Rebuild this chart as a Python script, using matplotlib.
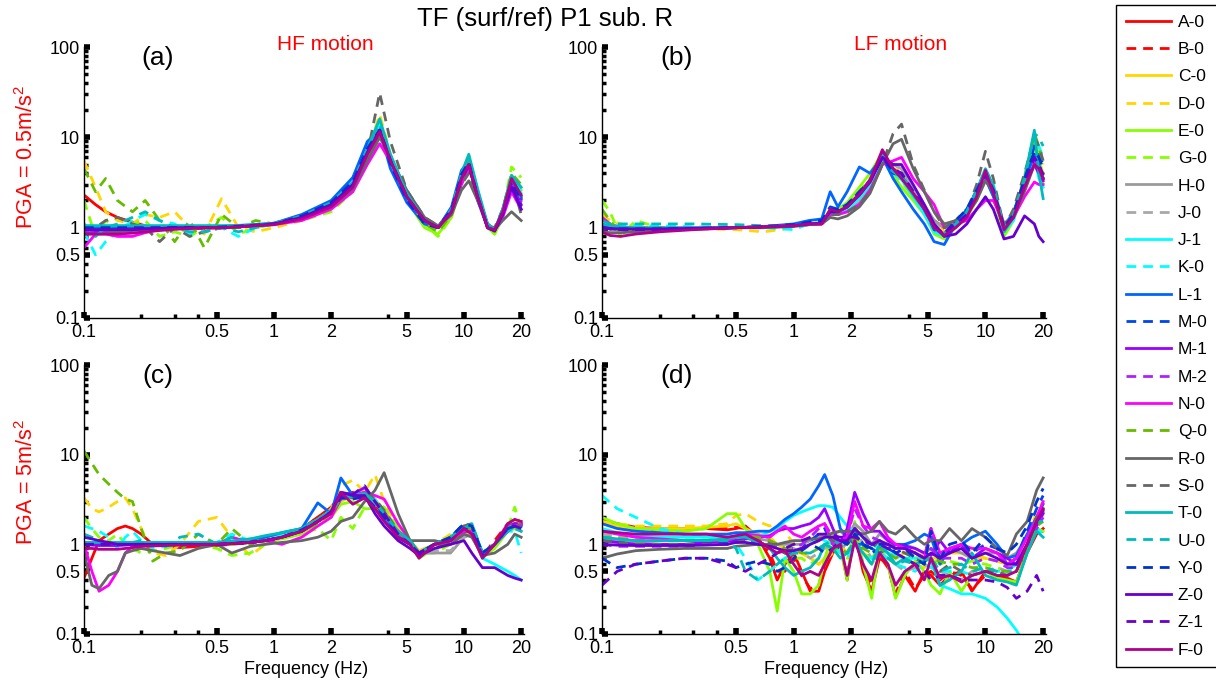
import matplotlib
matplotlib.use("Agg")
import matplotlib.pyplot as plt
from matplotlib.ticker import FixedLocator, NullFormatter

plt.rcParams['font.family'] = ['Liberation Sans', 'DejaVu Sans']
plt.rcParams['mathtext.fontset'] = 'custom'
plt.rcParams['mathtext.rm'] = 'Liberation Sans'
plt.rcParams['mathtext.it'] = 'Liberation Sans'

# ---------------- data ----------------
stations = ["A-0", "B-0", "C-0", "D-0", "E-0", "G-0", "H-0", "J-0", "J-1", "K-0", "L-1", "M-0",
            "M-1", "M-2", "N-0", "Q-0", "R-0", "S-0", "T-0", "U-0", "Y-0", "Z-0", "Z-1", "F-0"]
colors = ["#ff0000", "#ff0000", "#ffd700", "#ffd700", "#88ff00", "#88ff00", "#9a9a9a", "#a8a8a8",
          "#00ffff", "#00ffff", "#0066ff", "#0044ee", "#9900ff", "#aa22ff", "#ff00ff", "#66bb00",
          "#666666", "#666666", "#00bbbb", "#00bbbb", "#0033cc", "#6600cc", "#6600cc", "#b0008c"]
dashed = [False, True, False, True, False, True, False, True, False, True, False, True,
          False, True, False, True, False, True, False, True, True, False, True, False]

freq_a = [0.1, 0.115, 0.13, 0.15, 0.18, 0.21, 0.25, 0.3, 0.36, 0.43, 0.53, 0.65, 0.8, 1.0, 1.4, 2.0,
          2.6, 3.1, 3.6, 4.1, 5.0, 6.2, 7.3, 8.6, 9.7, 10.6, 11.8, 13.3, 14.5, 16.0, 17.8, 20.0]
tf_a = {
    "A-0": [2.3,1.8,1.5,1.3,1.15,1.05,1.0,0.98,0.97,0.98,1.0,1.02,1.06,1.1,1.3,1.8,3.0,6.5,11,5.5,2.1,1.15,1.0,1.5,3.6,5.0,2.2,1.05,0.93,1.4,3.4,2.1],
    "B-0": [1.0,0.95,0.95,0.95,0.97,0.98,0.99,1.0,1.0,1.0,1.0,1.03,1.07,1.1,1.3,1.8,3.0,6.8,12,5.8,2.2,1.2,1.0,1.5,3.5,5.2,2.3,1.05,0.95,1.4,3.2,2.0],
    "C-0": [1.0,1.0,1.0,1.0,1.0,1.0,1.0,1.0,1.0,1.0,1.02,1.04,1.07,1.1,1.3,1.8,3.0,7,14,6,2.3,1.2,1.0,1.5,3.6,5.3,2.4,1.05,0.95,1.5,3.5,2.2],
    "D-0": [5.5,2.8,1.5,1.2,1.1,1.4,1.3,1.5,1.0,0.85,2.1,1.0,0.9,1.0,1.2,1.7,2.8,6.5,18,6.5,2.4,1.2,1.0,1.5,3.8,5.5,2.4,1.05,0.95,1.5,3.8,2.8],
    "E-0": [0.9,0.95,1.0,1.0,1.0,0.98,0.98,1.0,1.0,1.0,1.0,1.02,1.05,1.08,1.25,1.7,2.7,6.0,13,5.5,2.0,1.0,0.85,1.3,3.4,5.0,2.2,1.0,0.85,1.3,3.6,2.6],
    "G-0": [2.0,0.8,1.2,1.0,1.1,1.2,0.8,0.9,0.8,1.0,1.3,0.85,1.0,1.1,1.2,1.5,2.5,5.5,9,5.0,2.2,1.1,0.8,1.3,3.0,5.5,2.4,1.0,0.85,1.5,4.7,3.6],
    "H-0": [0.95,0.95,0.95,0.97,0.98,1.0,1.0,1.0,1.0,1.0,1.0,1.03,1.06,1.1,1.3,1.8,2.9,6.3,12,5.8,2.4,1.2,1.0,1.5,3.4,5.0,2.3,1.05,0.95,1.4,3.0,2.0],
    "J-0": [1.0,1.0,1.0,1.0,1.0,1.0,1.0,1.0,1.0,1.0,1.0,1.03,1.06,1.1,1.3,1.8,2.9,6.3,12,6,2.4,1.2,1.0,1.5,3.3,4.8,2.3,1.05,0.95,1.4,3.0,1.8],
    "J-1": [1.05,1.05,1.05,1.05,1.05,1.05,1.05,1.05,1.05,1.05,1.05,1.06,1.08,1.12,1.35,1.9,3.2,7,14,6,2.3,1.2,1.0,1.6,3.8,5.8,2.5,1.05,0.95,1.5,3.5,2.4],
    "K-0": [0.9,0.5,0.7,0.9,1.2,1.4,1.2,1.1,0.85,0.9,1.0,0.8,1.0,1.1,1.3,1.8,3.1,7,15,6,2.3,1.2,1.0,1.6,3.9,6.2,2.6,1.05,0.95,1.5,3.6,2.5],
    "L-1": [1.0,1.0,1.0,1.0,1.0,1.0,1.0,1.0,1.0,1.0,1.02,1.05,1.08,1.12,1.4,2.0,3.6,9.0,12,4.5,1.9,1.1,1.0,1.7,4.3,5.5,2.0,1.0,0.92,1.6,3.6,2.2],
    "M-0": [1.0,1.0,1.0,1.0,1.0,1.0,1.0,1.0,1.0,1.0,1.02,1.04,1.07,1.1,1.35,1.9,3.3,8,12,5,2.0,1.1,1.0,1.6,4.0,5.4,2.2,1.0,0.93,1.5,3.4,2.0],
    "M-1": [0.9,0.9,0.92,0.95,0.97,0.98,1.0,1.0,1.0,1.0,1.0,1.03,1.06,1.1,1.3,1.8,3.0,6.5,11,5.5,2.2,1.2,1.0,1.5,3.6,5.2,2.3,1.05,0.95,1.4,3.0,1.8],
    "M-2": [0.92,0.92,0.93,0.95,0.97,0.98,1.0,1.0,1.0,1.0,1.0,1.03,1.06,1.1,1.3,1.8,3.0,6.6,11.5,5.6,2.2,1.2,1.0,1.5,3.5,5.0,2.3,1.05,0.95,1.4,3.1,1.9],
    "N-0": [0.6,0.85,0.85,0.8,0.8,0.88,0.95,0.97,0.98,1.0,1.0,1.02,1.05,1.08,1.2,1.6,2.5,5.0,8.5,5.5,2.3,1.2,1.0,1.4,3.0,4.5,2.4,1.1,0.95,1.3,2.5,1.6],
    "Q-0": [4.5,2.5,3.5,2.0,1.5,2.0,1.2,0.7,1.2,0.6,1.4,1.0,1.2,1.1,1.3,1.7,2.8,6.5,12,5.5,2.2,1.1,0.9,1.4,3.5,5.5,2.3,1.0,0.9,1.5,4.0,3.0],
    "R-0": [0.85,0.85,0.87,0.9,0.93,0.95,0.97,1.0,1.0,1.0,1.0,1.03,1.06,1.1,1.3,1.7,2.7,5.5,10,6,2.6,1.3,1.05,1.4,2.6,3.3,2.0,1.1,0.95,1.2,1.5,1.2],
    "S-0": [1.0,1.0,1.2,1.3,1.1,1.0,0.7,1.0,0.8,0.9,1.0,1.0,1.05,1.1,1.3,1.7,2.7,6.5,31,9,2.6,1.3,1.05,1.5,3.0,4.0,2.2,1.05,1.0,1.6,3.5,1.4],
    "T-0": [1.05,1.05,1.05,1.05,1.05,1.05,1.05,1.05,1.05,1.05,1.05,1.06,1.08,1.12,1.35,1.9,3.2,7.5,16,6.5,2.4,1.2,1.0,1.6,4,6.5,2.7,1.1,0.95,1.6,3.8,2.8],
    "U-0": [1.1,0.8,1.0,1.1,1.3,1.5,1.2,1.0,0.9,0.9,1.0,0.9,1.0,1.1,1.3,1.8,3.0,7,14,6,2.3,1.2,1.0,1.6,3.8,6.0,2.5,1.05,0.95,1.5,3.5,2.3],
    "Y-0": [1.0,1.0,1.0,1.0,1.0,1.0,1.0,1.0,1.0,1.0,1.02,1.04,1.07,1.1,1.35,1.9,3.2,7.5,12,5.2,2.1,1.1,1.0,1.6,3.9,5.3,2.2,1.0,0.93,1.5,3.3,2.0],
    "Z-0": [0.95,0.95,0.95,0.95,0.95,0.97,0.98,1.0,1.0,1.0,1.0,1.03,1.06,1.1,1.3,1.8,3.0,6.8,12,5.5,2.2,1.2,1.0,1.5,3.5,5.0,2.2,1.0,0.92,1.4,2.8,1.6],
    "Z-1": [0.95,0.95,0.95,0.96,0.97,0.98,0.99,1.0,1.0,1.0,1.0,1.03,1.06,1.1,1.3,1.8,3.0,6.7,12,5.6,2.2,1.2,1.0,1.5,3.4,4.9,2.2,1.0,0.93,1.4,2.9,1.7],
    "F-0": [0.85,0.85,0.85,0.85,0.87,0.9,0.93,0.96,0.98,1.0,1.0,1.02,1.05,1.08,1.25,1.7,2.8,6.5,11.5,5.5,2.2,1.2,1.0,1.5,3.5,5.0,2.2,1.0,0.95,1.5,3.5,2.3],
}

freq_b = [0.1, 0.11, 0.125, 0.15, 0.2, 0.3, 0.5, 0.7, 1.0, 1.2, 1.4, 1.55, 1.7, 1.9, 2.2, 2.5, 2.9,
          3.3, 3.65, 4.2, 4.8, 5.4, 6.1, 7.0, 8.0, 9.0, 10.0, 11.0, 12.5, 14.0, 16.0, 18.0, 19.0, 20.0]
tf_b = {
    "A-0": [1.1,1.0,0.97,0.95,0.96,0.98,1.0,1.02,1.05,1.08,1.1,1.4,1.4,1.6,2.2,3.2,6.5,4.0,3.5,2.2,1.6,1.2,1.0,1.1,1.5,2.3,3.8,2.5,1.0,1.3,2.8,6.0,4.5,3.5],
    "B-0": [1.05,1.0,0.97,0.95,0.96,0.98,1.0,1.02,1.05,1.1,1.12,1.45,1.4,1.65,2.2,3.0,6.8,4.2,3.6,2.3,1.5,1.1,0.9,1.1,1.4,2.2,3.9,2.6,1.0,1.3,3.0,5.5,4.0,3.2],
    "C-0": [1.3,1.1,1.0,0.97,0.97,0.98,1.0,1.0,1.05,1.1,1.12,1.5,1.5,1.7,2.3,3.2,6.8,4.5,4.0,2.3,1.6,1.1,0.9,1.1,1.4,2.4,4.0,2.7,1.0,1.4,3.5,8.0,5.5,4.0],
    "D-0": [1.4,1.2,1.1,1.05,1.0,0.98,0.95,0.9,1.0,1.1,1.15,1.5,1.5,1.7,2.3,3.2,6.5,4.5,4.2,2.5,1.7,1.0,0.85,1.1,1.4,2.4,4.2,2.8,1.0,1.4,3.8,10,7.0,5.0],
    "E-0": [1.0,0.97,0.95,0.95,0.96,0.98,1.0,1.02,1.05,1.1,1.12,1.6,1.6,1.9,2.8,4.0,6.8,3.8,2.8,2.0,1.4,0.85,0.75,1.0,1.3,2.0,3.5,2.3,0.8,1.2,3.2,9.0,6.0,3.5],
    "G-0": [2.0,1.5,0.8,1.2,1.0,0.97,1.0,1.0,1.05,1.1,1.12,1.5,1.5,1.8,2.5,3.5,6.5,4.0,3.2,2.2,1.5,1.0,0.85,1.1,1.4,2.3,3.8,2.5,0.9,1.3,3.0,7.5,5.0,3.0],
    "H-0": [1.0,0.97,0.95,0.95,0.96,0.98,1.0,1.02,1.05,1.1,1.12,1.4,1.4,1.5,1.9,2.8,6.0,5.0,4.5,2.8,1.8,1.2,1.0,1.2,1.4,2.2,3.8,2.6,1.1,1.4,3.0,6.0,4.5,3.5],
    "J-0": [1.1,1.0,0.97,0.96,0.96,0.98,1.0,1.02,1.05,1.1,1.12,1.4,1.4,1.5,1.9,2.8,6.0,5.0,4.5,2.6,1.7,1.1,0.95,1.1,1.4,2.2,3.7,2.5,1.0,1.3,3.0,6.5,5.0,3.8],
    "J-1": [1.05,1.0,0.98,0.97,0.97,0.98,1.0,1.02,1.05,1.1,1.12,1.45,1.45,1.6,2.1,3.0,6.0,4.0,3.4,2.2,1.4,0.9,0.8,1.1,1.5,2.4,4.2,2.8,0.9,1.2,2.8,6.0,3.5,2.8],
    "K-0": [1.3,1.1,1.05,1.05,1.05,1.02,1.0,1.0,0.95,1.1,1.15,1.5,1.5,1.7,2.3,3.2,6.5,4.3,3.8,2.4,1.6,1.0,0.85,1.1,1.4,2.5,4.4,3.0,1.0,1.4,3.5,10,8.0,6.0],
    "L-1": [1.0,0.98,0.97,0.97,0.97,0.98,1.0,1.03,1.1,1.2,1.25,2.5,1.7,2.5,4.7,4.0,6.0,3.5,2.5,1.6,1.1,0.7,0.65,1.1,1.6,2.5,3.5,2.2,1.0,1.5,3.2,6.5,5.0,3.5],
    "M-0": [1.0,0.98,0.97,0.97,0.97,0.98,1.0,1.03,1.08,1.15,1.2,1.7,1.6,1.8,2.5,3.3,6.2,4.0,3.8,2.4,1.6,0.95,0.85,1.2,1.6,2.6,4.2,2.6,1.0,1.4,3.5,8.0,6.5,5.0],
    "M-1": [1.0,0.97,0.95,0.95,0.96,0.98,1.0,1.02,1.05,1.1,1.12,1.5,1.5,1.7,2.4,3.4,6.5,4.5,3.8,2.4,1.6,1.0,0.85,1.1,1.4,2.2,3.8,2.5,0.95,1.3,2.8,5.0,4.0,3.3],
    "M-2": [1.05,1.0,0.97,0.96,0.96,0.98,1.0,1.02,1.05,1.1,1.12,1.5,1.5,1.7,2.3,3.2,6.3,4.3,3.7,2.4,1.6,1.0,0.85,1.1,1.4,2.2,3.8,2.6,1.0,1.3,3.0,5.5,4.5,3.5],
    "N-0": [1.3,1.1,1.0,0.98,0.98,1.0,1.0,1.02,1.05,1.08,1.1,1.4,1.4,1.5,1.8,2.6,5.0,5.5,6.0,3.5,2.5,1.8,1.0,1.1,1.2,1.6,2.0,2.0,1.1,1.3,2.2,3.2,3.0,3.0],
    "Q-0": [1.6,1.2,0.85,1.0,1.0,0.97,1.0,1.0,1.05,1.1,1.12,1.5,1.5,1.7,2.4,3.3,6.5,4.2,3.6,2.3,1.6,1.0,0.85,1.1,1.4,2.3,4.0,2.7,1.0,1.4,3.3,11,8.0,5.0],
    "R-0": [0.9,0.88,0.88,0.9,0.93,0.96,1.0,1.0,1.03,1.08,1.1,1.3,1.25,1.35,1.7,2.4,5.0,8.5,9.5,4.5,2.5,1.5,1.1,1.2,1.4,2.0,3.3,2.5,1.1,1.3,2.5,5.0,4.5,4.0],
    "S-0": [1.0,0.97,0.95,0.95,0.96,0.98,1.0,1.02,1.05,1.1,1.12,1.4,1.4,1.5,1.8,2.5,5.0,11,14,5.0,2.6,1.5,1.0,1.2,1.5,3.0,7.0,3.5,1.0,1.6,4.0,10,8.0,5.5],
    "T-0": [1.1,1.05,1.02,1.0,1.0,1.0,1.0,1.02,1.05,1.1,1.12,1.5,1.5,1.7,2.3,3.2,6.3,4.2,3.7,2.3,1.6,1.0,0.8,1.1,1.5,2.6,4.5,2.9,0.9,1.3,3.5,12,4.0,2.1],
    "U-0": [1.2,1.1,1.1,1.1,1.1,1.1,1.08,1.05,1.05,1.1,1.12,1.5,1.5,1.7,2.3,3.2,6.3,4.2,3.8,2.4,1.6,1.0,0.85,1.1,1.5,2.5,4.3,2.9,1.0,1.4,3.5,11,10,8.0],
    "Y-0": [1.0,0.98,0.97,0.97,0.97,0.98,1.0,1.03,1.08,1.15,1.2,1.6,1.6,1.8,2.5,3.3,6.0,4.2,4.0,2.5,1.7,1.0,0.85,1.2,1.6,2.6,4.0,2.6,1.0,1.4,3.5,7.0,6.0,4.5],
    "Z-0": [1.0,0.98,0.97,0.97,0.97,0.98,1.0,1.02,1.05,1.1,1.12,1.5,1.5,1.7,2.3,3.2,6.0,5.0,5.0,3.0,1.8,1.1,0.8,0.85,1.1,1.6,2.2,1.6,0.75,0.8,1.35,1.1,0.8,0.7],
    "Z-1": [1.0,0.97,0.95,0.95,0.96,0.98,1.0,1.02,1.05,1.1,1.12,1.5,1.5,1.7,2.4,3.3,6.0,4.5,4.0,2.5,1.7,1.05,0.85,1.1,1.4,2.3,3.9,2.6,1.0,1.3,3.0,6.0,5.0,3.8],
    "F-0": [0.9,0.82,0.8,0.85,0.9,0.95,1.0,1.02,1.05,1.1,1.1,1.6,1.5,1.7,2.3,3.3,7.3,4.5,3.5,2.4,1.6,1.0,0.82,1.0,1.3,2.2,4.3,2.4,0.95,1.3,2.8,5.0,4.5,3.5],
}

freq_c = [0.1, 0.11, 0.12, 0.135, 0.15, 0.165, 0.18, 0.2, 0.23, 0.27, 0.32, 0.4, 0.5, 0.6, 0.75, 0.9,
          1.1, 1.4, 1.7, 2.0, 2.25, 2.6, 3.0, 3.4, 3.8, 4.5, 5.2, 5.8, 7.0, 8.5, 10.0, 11.0, 12.5,
          14.5, 17.0, 18.5, 20.0]
tf_c = {
    "A-0": [0.42,0.7,1.1,1.3,1.5,1.6,1.5,1.3,1.0,0.95,0.92,0.95,0.97,1.0,1.05,1.1,1.2,1.5,2.0,2.6,3.5,3.8,3.2,2.8,2.0,1.2,1.0,0.8,1.0,1.1,1.4,1.3,0.75,1.0,1.6,1.8,1.7],
    "B-0": [1.0,1.0,1.0,1.0,1.0,1.0,1.0,1.0,1.0,0.98,0.97,0.98,1.0,1.02,1.05,1.1,1.2,1.5,2.0,2.5,3.6,3.5,3.3,2.8,2.1,1.3,1.0,0.8,1.0,1.1,1.4,1.5,0.75,1.1,1.7,1.8,1.6],
    "C-0": [1.0,1.0,1.0,1.0,1.0,1.0,1.0,1.0,1.0,1.0,1.0,1.0,1.0,1.02,1.05,1.1,1.2,1.4,1.8,2.3,3.0,3.5,3.8,3.2,2.4,1.5,1.1,0.85,1.0,1.2,1.5,1.5,0.8,1.0,1.6,1.8,1.8],
    "D-0": [3.3,2.5,2.3,2.6,3.0,3.3,2.5,1.5,0.8,0.75,1.0,1.8,2.0,1.2,0.75,1.0,1.2,1.3,1.8,2.5,4.5,5.2,3.8,6.0,3.0,1.5,1.1,0.8,1.0,1.3,1.5,1.4,0.8,1.0,1.5,1.6,1.5],
    "E-0": [1.0,1.0,1.0,1.0,1.0,1.0,1.0,1.0,1.0,1.0,1.0,1.0,1.0,1.0,1.05,1.1,1.15,1.3,1.6,2.0,2.8,3.0,2.5,2.5,2.0,1.3,1.0,0.7,0.9,1.0,1.3,1.3,0.7,0.9,1.4,1.5,1.4],
    "G-0": [2.0,1.5,1.2,1.1,1.3,1.0,0.9,0.8,0.85,0.9,1.0,1.0,0.9,0.75,0.8,1.0,1.2,1.3,1.5,1.1,2.0,1.5,2.6,3.0,2.6,1.6,1.1,0.8,0.8,1.0,1.3,1.5,0.8,1.0,1.5,2.6,1.5],
    "H-0": [1.0,1.0,1.0,1.0,1.0,1.0,1.0,1.0,1.0,1.0,1.0,1.0,1.0,1.02,1.05,1.1,1.2,1.4,1.8,2.2,3.2,3.3,3.5,3.0,2.3,1.3,1.0,0.8,0.8,0.8,1.2,1.3,0.75,1.0,1.5,1.7,1.6],
    "J-0": [1.0,1.0,1.0,1.0,1.0,1.0,1.0,1.0,1.0,1.0,1.0,1.0,1.0,1.02,1.05,1.1,1.2,1.4,1.8,2.2,3.2,3.3,3.3,2.8,2.2,1.3,1.0,0.8,0.85,0.85,1.2,1.3,0.75,1.0,1.5,1.7,1.6],
    "J-1": [1.05,1.05,1.05,1.05,1.05,1.05,1.05,1.05,1.05,1.05,1.05,1.05,1.05,1.1,1.15,1.2,1.3,1.5,1.9,2.4,3.3,3.5,3.8,3.2,2.2,1.3,1.0,0.8,1.0,1.2,1.5,1.4,0.7,0.6,0.5,0.45,0.4],
    "K-0": [1.6,1.5,1.4,1.2,0.9,1.2,1.4,1.1,0.9,0.95,1.0,1.0,1.05,1.3,1.1,1.2,1.3,1.5,1.9,2.4,3.2,3.5,3.5,3.0,2.3,1.4,1.1,0.8,1.0,1.2,1.5,1.6,0.8,1.0,1.4,1.4,0.8],
    "L-1": [1.0,1.0,1.0,1.0,1.0,1.0,1.0,1.0,1.0,1.0,1.0,1.0,1.0,1.02,1.1,1.2,1.35,1.5,2.9,2.2,5.5,3.5,3.3,2.5,1.9,1.2,1.0,0.8,1.0,1.2,1.6,1.5,0.8,1.0,1.5,1.7,1.6],
    "M-0": [1.0,1.0,1.0,1.0,1.0,1.0,1.0,1.0,1.0,1.0,1.0,1.0,1.0,1.02,1.05,1.1,1.2,1.45,1.8,2.3,3.5,3.3,3.4,2.6,2.0,1.2,1.0,0.8,1.0,1.2,1.7,1.6,0.8,1.0,1.5,1.6,1.5],
    "M-1": [1.0,0.98,0.97,0.97,0.97,0.98,1.0,1.0,1.0,1.0,1.0,1.0,1.0,1.02,1.05,1.1,1.2,1.4,1.8,2.3,3.8,3.6,4.3,3.0,2.3,1.3,1.0,0.8,1.0,1.1,1.4,1.4,0.75,1.0,1.6,1.7,1.7],
    "M-2": [1.0,1.0,1.0,1.0,1.0,1.0,1.0,1.0,1.0,1.0,1.0,1.0,1.0,1.02,1.05,1.1,1.2,1.4,1.8,2.3,3.5,3.6,4.0,3.0,2.2,1.3,1.0,0.8,1.0,1.1,1.4,1.4,0.75,1.0,1.6,1.7,1.6],
    "N-0": [1.0,0.5,0.3,0.35,0.5,0.8,0.95,1.0,1.0,1.0,1.0,1.0,1.0,1.2,1.05,1.1,1.0,1.2,1.6,2.0,3.2,3.6,3.8,3.5,3.2,1.7,1.1,0.8,1.0,1.1,1.4,1.4,0.8,1.0,1.4,1.6,1.7],
    "Q-0": [11,8,6,4.7,3.8,3.2,3.0,1.5,0.65,0.8,0.85,1.3,1.0,1.5,1.0,1.1,1.2,1.4,1.7,2.2,3.3,3.4,3.5,3.0,2.3,1.4,1.0,0.8,1.0,1.1,1.5,1.5,0.8,1.0,1.5,1.7,1.8],
    "R-0": [0.8,0.35,0.32,0.45,0.5,0.8,0.85,0.9,0.85,0.8,0.75,0.9,1.0,0.8,0.95,1.0,1.05,1.1,1.2,1.4,1.8,2.0,3.0,4.0,6.3,2.2,1.1,1.1,1.1,1.0,1.3,1.2,0.75,0.8,1.0,1.3,1.2],
    "S-0": [1.0,1.0,1.0,1.0,1.0,1.0,1.0,1.0,1.0,1.0,1.0,1.0,1.0,1.02,1.05,1.1,1.2,1.4,1.8,2.3,3.5,3.3,3.8,3.2,2.4,1.4,1.1,0.8,0.9,1.1,1.6,1.7,0.8,1.0,1.5,1.6,1.6],
    "T-0": [1.05,1.05,1.05,1.05,1.05,1.05,1.05,1.05,1.05,1.05,1.05,1.05,1.05,1.08,1.15,1.25,1.35,1.5,1.9,2.4,3.4,3.5,3.7,3.0,2.2,1.4,1.1,0.8,1.0,1.2,1.5,1.7,0.8,1.0,1.4,1.6,1.4],
    "U-0": [1.3,1.2,1.1,1.0,1.0,1.0,1.05,1.1,1.0,0.95,1.2,1.3,1.0,1.2,1.1,1.1,1.2,1.5,1.9,2.3,3.3,3.4,3.6,3.0,2.2,1.3,1.0,0.8,1.0,1.2,1.5,1.6,0.8,1.0,1.4,1.5,1.4],
    "Y-0": [1.0,1.0,1.0,1.0,1.0,1.0,1.0,1.0,1.0,1.0,1.0,1.0,1.0,1.02,1.05,1.1,1.2,1.45,1.8,2.3,3.3,3.2,3.4,2.6,2.0,1.2,1.0,0.8,1.0,1.2,1.7,1.6,0.8,1.0,1.5,1.6,1.5],
    "Z-0": [1.2,1.15,1.1,1.05,1.0,1.0,1.0,1.0,1.0,1.0,1.0,1.0,1.0,1.02,1.05,1.1,1.2,1.4,1.8,2.3,3.8,3.5,3.5,2.2,1.6,1.1,0.9,0.75,0.9,1.0,1.1,0.8,0.55,0.55,0.45,0.42,0.4],
    "Z-1": [1.0,1.0,1.0,1.0,1.0,1.0,1.0,1.0,1.0,1.0,1.0,1.0,1.0,1.02,1.05,1.1,1.2,1.4,1.8,2.3,3.5,3.6,4.5,3.0,2.2,1.3,1.0,0.8,1.0,1.1,1.5,1.4,0.75,1.0,1.5,1.6,1.5],
    "F-0": [0.9,0.9,0.88,0.88,0.88,0.9,0.92,0.95,0.96,0.97,0.98,0.99,1.0,1.02,1.05,1.1,1.2,1.4,1.8,2.2,3.8,2.8,3.3,2.5,1.8,1.2,1.0,0.7,1.0,1.1,1.5,1.3,0.7,1.0,1.7,1.9,1.8],
}

freq_d = [0.1, 0.12, 0.15, 0.2, 0.27, 0.35, 0.45, 0.5, 0.56, 0.65, 0.75, 0.82, 0.9, 1.0, 1.1, 1.22,
          1.35, 1.45, 1.6, 1.75, 1.9, 2.08, 2.3, 2.55, 2.8, 3.1, 3.4, 3.8, 4.3, 4.8, 5.2, 5.8, 6.5,
          7.5, 8.5, 10.0, 11.5, 13.0, 14.5, 16.5, 18.5, 20.0]
tf_d = {
    "A-0": [1.9,1.7,1.55,1.5,1.5,1.5,1.45,1.5,1.6,1.2,0.7,0.4,0.6,0.8,0.5,0.3,0.3,0.5,0.8,1.0,0.4,1.4,0.5,0.3,0.7,0.6,0.26,0.45,0.3,0.5,0.45,0.35,0.45,0.5,0.3,0.5,0.45,0.42,0.38,0.8,1.3,1.5],
    "B-0": [1.8,1.6,1.5,1.45,1.45,1.5,1.5,1.55,1.5,1.2,0.8,0.5,0.5,0.7,0.45,0.32,0.35,0.6,0.9,0.9,0.5,1.3,0.6,0.35,0.75,0.55,0.28,0.5,0.32,0.45,0.5,0.4,0.5,0.45,0.32,0.45,0.42,0.4,0.35,0.9,1.4,1.4],
    "C-0": [1.8,1.6,1.5,1.5,1.5,1.55,1.6,1.7,1.5,1.3,1.2,1.0,0.9,0.8,0.8,0.7,0.6,0.7,0.9,1.0,0.8,1.2,0.8,0.7,0.9,0.8,0.7,0.8,0.7,0.8,0.9,0.7,0.8,0.8,0.7,0.7,0.65,0.6,0.6,1.0,2.0,2.5],
    "D-0": [1.8,1.7,1.6,1.6,1.6,1.6,1.7,2.1,2.2,1.8,1.6,1.7,1.4,1.0,0.8,0.7,0.6,0.65,0.8,0.9,0.7,1.0,0.8,0.6,0.8,0.7,0.6,0.7,0.6,0.55,0.7,0.7,0.8,0.9,0.8,0.7,0.65,0.6,0.7,1.2,2.3,3.0],
    "E-0": [2.0,1.7,1.5,1.45,1.4,1.5,2.2,2.2,1.5,1.0,0.5,0.18,0.7,0.5,0.28,0.28,0.35,0.7,1.3,0.9,0.4,1.8,0.6,0.25,0.9,0.6,0.25,0.45,0.65,0.5,0.35,0.28,0.5,0.3,0.45,0.5,0.42,0.4,0.38,0.8,1.5,1.4],
    "G-0": [1.3,1.2,1.2,1.2,1.2,1.2,1.2,1.25,1.2,1.1,1.0,0.9,0.8,0.7,0.7,0.6,0.7,1.0,0.9,0.8,0.7,1.0,0.8,0.7,0.9,0.7,0.6,0.7,0.7,0.65,0.7,0.6,0.65,0.6,0.65,0.6,0.55,0.5,0.5,0.9,1.8,2.0],
    "H-0": [1.2,1.1,1.05,1.0,1.0,1.0,1.05,1.1,1.15,1.15,1.1,1.0,1.0,1.0,1.0,1.1,1.2,1.3,1.3,1.4,1.2,1.7,1.4,1.0,1.3,1.1,0.9,1.0,0.9,0.8,0.9,0.8,0.9,0.8,0.7,0.8,0.8,0.7,0.8,1.2,2.0,2.3],
    "J-0": [1.3,1.2,1.1,1.1,1.1,1.1,1.1,1.2,1.3,1.3,1.1,0.9,0.8,0.9,0.8,0.7,0.8,0.9,1.0,1.0,0.9,1.6,1.0,0.7,0.8,0.7,0.6,0.5,0.55,0.6,0.55,0.5,0.45,0.4,0.5,0.5,0.55,0.5,0.6,1.0,1.8,2.0],
    "J-1": [1.5,1.35,1.25,1.2,1.2,1.2,1.2,1.2,1.2,1.2,1.4,1.5,1.8,2.1,2.3,2.5,2.7,2.7,2.6,2.0,1.6,1.4,1.2,1.0,0.9,0.8,0.75,0.7,0.7,0.7,0.65,0.35,0.32,0.28,0.28,0.25,0.2,0.15,0.11,0.07,0.05,0.04],
    "K-0": [3.5,2.5,2.0,1.5,1.3,1.2,1.15,1.0,0.7,0.4,0.5,0.6,0.7,0.8,0.9,1.0,1.2,1.1,1.0,0.8,0.7,1.0,0.8,0.7,0.8,0.7,0.6,0.55,0.5,0.6,0.55,0.5,0.5,0.5,0.45,0.5,0.5,0.5,0.6,1.0,1.5,1.3],
    "L-1": [1.7,1.5,1.4,1.35,1.3,1.3,1.3,1.35,1.35,1.4,1.4,1.6,1.9,2.2,2.6,3.2,4.5,6.0,3.5,1.5,1.2,1.0,1.0,0.9,0.8,0.9,1.0,1.0,1.1,1.3,1.2,0.6,0.9,1.0,1.2,1.4,1.0,0.7,0.75,1.3,2.0,2.8],
    "M-0": [1.1,1.05,1.0,1.0,1.0,1.0,1.05,1.1,1.1,1.05,1.0,0.9,0.8,0.8,0.9,1.1,1.3,1.5,1.0,0.9,1.1,1.5,1.0,0.8,0.9,0.9,0.8,1.0,0.8,0.7,1.5,0.7,0.8,1.0,0.8,1.0,0.9,0.6,0.7,1.4,2.5,3.5],
    "M-1": [1.1,1.05,1.0,1.0,1.0,1.05,1.1,1.1,1.15,1.2,1.25,1.4,1.5,1.5,1.6,1.7,2.0,2.5,1.5,1.0,1.5,3.8,2.2,1.4,1.4,1.1,1.0,0.95,0.9,0.8,0.75,1.1,0.8,1.0,0.7,0.9,0.8,0.7,0.6,1.0,1.6,2.2],
    "M-2": [1.0,0.95,0.95,0.95,0.95,1.0,1.0,1.05,1.1,1.1,1.05,1.0,0.9,0.9,1.0,1.2,1.5,1.7,1.2,1.0,1.2,2.5,1.6,1.2,1.1,1.0,0.9,0.9,0.8,0.7,0.9,0.7,0.7,0.7,0.6,0.7,0.65,0.55,0.55,0.9,1.5,2.0],
    "N-0": [1.4,1.3,1.2,1.15,1.1,1.1,1.1,1.2,1.3,1.25,1.2,1.4,1.6,1.3,1.2,1.4,1.6,1.7,1.0,1.1,1.2,3.0,1.6,1.5,1.8,1.2,1.0,0.9,0.8,0.7,1.5,0.8,0.9,1.0,0.9,0.9,0.8,0.6,0.7,1.2,2.0,3.0],
    "Q-0": [1.2,1.15,1.1,1.1,1.1,1.1,1.15,1.2,1.25,1.2,1.1,1.0,0.9,0.9,0.8,0.8,0.9,1.0,0.9,0.9,0.8,1.2,0.9,0.8,0.9,0.8,0.7,0.8,0.75,0.7,0.7,0.65,0.6,0.6,0.55,0.55,0.5,0.5,0.5,0.9,1.6,1.8],
    "R-0": [0.7,0.78,0.85,0.88,0.9,0.9,0.9,0.95,0.97,1.0,1.0,1.0,1.05,1.1,1.1,1.15,1.15,1.2,1.35,1.4,1.4,1.4,1.3,1.4,1.8,1.4,1.3,1.6,1.2,1.0,1.1,1.1,1.5,1.1,1.5,1.2,0.9,0.75,1.3,1.8,4.0,5.5],
    "S-0": [1.1,1.05,1.0,1.0,1.0,1.0,1.0,1.05,1.1,1.1,1.0,0.9,0.8,0.85,0.9,1.0,1.1,1.2,1.1,1.0,1.0,1.5,1.2,0.9,1.1,1.0,0.9,0.8,0.7,0.6,0.7,0.5,0.6,0.5,0.45,0.5,0.5,0.45,0.5,1.0,2.0,2.5],
    "T-0": [1.2,1.15,1.1,1.1,1.1,1.1,1.15,1.2,1.2,1.05,0.9,0.7,0.55,0.45,0.5,0.55,0.7,1.0,0.9,0.7,0.8,1.0,0.8,0.6,1.0,0.8,0.6,0.7,0.6,0.65,0.7,0.35,0.4,0.5,0.8,0.45,0.4,0.38,0.35,0.8,1.4,1.2],
    "U-0": [1.2,1.15,1.1,1.1,1.1,1.1,1.1,0.9,0.5,0.4,0.5,0.6,0.7,0.8,0.8,0.8,0.9,1.0,1.1,1.0,0.8,1.1,0.8,0.6,0.8,0.7,0.6,0.65,0.6,0.65,0.7,0.5,0.55,0.6,0.5,0.55,0.5,0.45,0.55,1.0,1.8,1.8],
    "Y-0": [0.7,0.55,0.6,0.65,0.7,0.7,0.65,0.55,0.6,0.65,0.6,0.5,0.55,0.7,0.85,1.0,0.9,0.8,0.9,1.1,1.0,1.3,1.0,0.9,1.0,1.0,0.8,0.9,0.7,0.6,1.4,0.7,1.0,1.1,0.8,1.2,0.9,0.8,1.0,1.6,3.0,4.2],
    "Z-0": [1.0,0.98,0.97,0.97,0.97,0.98,1.0,1.05,1.05,1.0,0.95,0.9,0.85,0.85,0.9,1.0,1.1,1.2,1.2,1.1,1.1,1.5,1.2,1.0,1.1,1.0,0.9,0.9,0.8,0.7,0.8,0.7,0.8,0.9,0.7,0.8,0.7,0.6,0.6,1.0,1.8,2.4],
    "Z-1": [0.35,0.5,0.6,0.65,0.7,0.7,0.6,0.55,0.5,0.6,0.7,0.8,0.9,1.0,1.1,1.2,1.3,1.3,1.25,1.2,1.2,1.2,1.1,1.0,1.0,0.9,0.8,0.7,0.6,0.5,0.4,0.45,0.45,0.4,0.4,0.4,0.38,0.33,0.25,0.3,0.45,0.3],
    "F-0": [1.4,1.35,1.3,1.3,1.3,1.3,1.2,1.25,1.3,1.1,0.9,0.8,0.85,0.6,0.45,0.5,0.45,0.6,0.9,1.0,0.45,1.1,0.6,0.4,0.8,0.6,0.35,0.5,0.6,0.4,0.7,0.42,0.45,0.38,0.45,0.5,0.45,0.45,0.5,1.0,1.8,2.5],
}

panel_letters = ["(a)", "(b)", "(c)", "(d)"]
x_ticks = [0.1, 0.5, 1, 2, 5, 10, 20]
x_ticklabels = ["0.1", "0.5", "1", "2", "5", "10", "20"]
x_minor = [0.2, 0.3, 0.4, 4]
y_ticks = [0.1, 0.5, 1, 10, 100]
y_ticklabels = ["0.1", "0.5", "1", "10", "100"]

# ---------------- figure ----------------
W, H = 1216, 683
fig = plt.figure(figsize=(W / 100, H / 100), dpi=100)

def px_axes(x0, y0, x1, y1):
    return fig.add_axes([x0 / W, 1 - y1 / H, (x1 - x0) / W, (y1 - y0) / H])

axes = [px_axes(84, 47, 524, 318), px_axes(602, 47, 1046, 318),
        px_axes(84, 365, 524, 634), px_axes(602, 365, 1046, 634)]
panels = [(freq_a, tf_a), (freq_b, tf_b), (freq_c, tf_c), (freq_d, tf_d)]

y_minor = [m * 10.0 ** e for e in (-1, 0, 1) for m in range(2, 10) if not (e == -1 and m == 5)]

handles = []
for k, (ax, (fr, tf)) in enumerate(zip(axes, panels)):
    for i, st in enumerate(stations):
        ls = (0, (3.5, 2.5)) if dashed[i] else '-'
        ln, = ax.plot(fr, tf[st], color=colors[i], lw=2.0, linestyle=ls, label=st)
        if k == 0:
            handles.append(ln)
    ax.set_xscale('log')
    ax.set_yscale('log')
    ax.set_xlim(0.1, 20.7)
    ax.set_ylim(0.1, 100)
    ax.xaxis.set_major_locator(FixedLocator(x_ticks))
    ax.set_xticklabels(x_ticklabels)
    ax.xaxis.set_minor_locator(FixedLocator(x_minor))
    ax.xaxis.set_minor_formatter(NullFormatter())
    ax.yaxis.set_major_locator(FixedLocator(y_ticks))
    ax.set_yticklabels(y_ticklabels)
    ax.yaxis.set_minor_locator(FixedLocator(y_minor))
    ax.yaxis.set_minor_formatter(NullFormatter())
    ax.tick_params(which='major', direction='in', length=4, width=4, labelsize=13, pad=3)
    ax.tick_params(axis='x', which='major', pad=4)
    ax.tick_params(which='minor', direction='in', length=3, width=2.5)
    for s in ('top', 'right'):
        ax.spines[s].set_visible(False)
    for s in ('left', 'bottom'):
        ax.spines[s].set_linewidth(1.0)
    ax.text(0.168, 0.958, panel_letters[k], transform=ax.transAxes, fontsize=19,
            ha='center', va='center')

fig.text(306 / W, 1 - 670 / H, "Frequency (Hz)", fontsize=13, ha='center', va='center')
fig.text(826 / W, 1 - 670 / H, "Frequency (Hz)", fontsize=13, ha='center', va='center')

fig.text(545 / W, 1 - 19 / H, "TF (surf/ref) P1 sub. R", fontsize=18.5, ha='center', va='center')
fig.text(325 / W, 1 - 44 / H, "HF motion", fontsize=15, color='red', ha='center', va='center')
fig.text(901 / W, 1 - 44 / H, "LF motion", fontsize=15, color='red', ha='center', va='center')
fig.text(27 / W, 1 - 157 / H, "PGA = 0.5m/s$^2$", fontsize=15.5, color='red', rotation=90,
         ha='center', va='center')
fig.text(27 / W, 1 - 482 / H, "PGA = 5m/s$^2$", fontsize=15.5, color='red', rotation=90,
         ha='center', va='center')

leg = fig.legend(handles, stations, loc='upper left', bbox_to_anchor=(1116 / W, 1 - 5 / H),
                 frameon=True, fancybox=False, edgecolor='black', framealpha=1, fontsize=12.5,
                 handlelength=2.6, handletextpad=0.4, labelspacing=0.70, borderpad=0.55,
                 borderaxespad=0)
leg.get_frame().set_linewidth(1.0)

fig.savefig("out.png", dpi=100)
